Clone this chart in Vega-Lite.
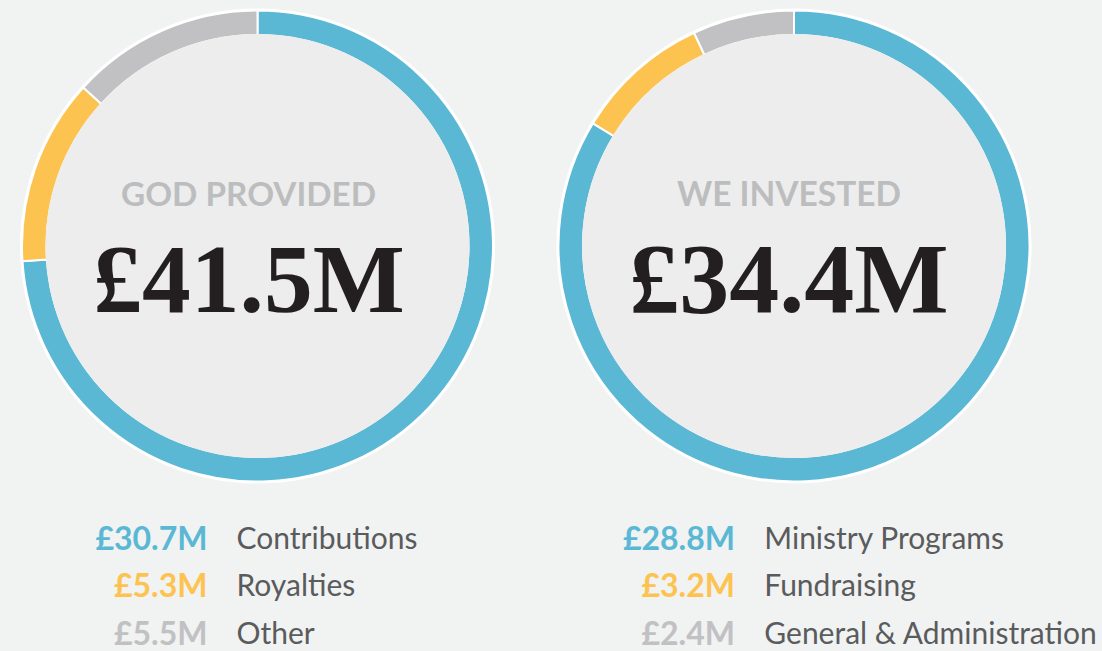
{
  "$schema": "https://vega.github.io/schema/vega-lite/v6.json",
  "background": "#f1f2f2",
  "padding": 0,
  "spacing": 21.5,
  "config": {"view": {"stroke": null}, "concat": {"spacing": 21.5}},
  "datasets": {
    "provided": [
      {"rank": 1, "category": "Contributions", "amount": 30.7, "display": "£30.7M", "title": "GOD PROVIDED", "total": "£41.5M"},
      {"rank": 2, "category": "Royalties", "amount": 5.3, "display": "£5.3M", "title": "GOD PROVIDED", "total": "£41.5M"},
      {"rank": 3, "category": "Other", "amount": 5.5, "display": "£5.5M", "title": "GOD PROVIDED", "total": "£41.5M"}
    ],
    "invested": [
      {"rank": 1, "category": "Ministry Programs", "amount": 28.8, "display": "£28.8M", "title": "WE INVESTED", "total": "£34.4M"},
      {"rank": 2, "category": "Fundraising", "amount": 3.2, "display": "£3.2M", "title": "WE INVESTED", "total": "£34.4M"},
      {"rank": 3, "category": "General & Administration", "amount": 2.4, "display": "£2.4M", "title": "WE INVESTED", "total": "£34.4M"}
    ]
  },
  "hconcat": [
    {
      "data": {"name": "provided"},
      "spacing": 22,
      "vconcat": [
        {
          "width": 515,
          "height": 492,
          "layer": [
            {"transform": [{"filter": "datum.rank == 1"}], "mark": {"type": "arc", "theta": 0, "theta2": 6.2832, "outerRadius": 237.5, "innerRadius": 0, "fill": "#ffffff"}},
            {
              "mark": {"type": "arc", "outerRadius": 235.5, "innerRadius": 211, "stroke": "#ffffff", "strokeWidth": 2},
              "encoding": {
                "theta": {"field": "amount", "type": "quantitative", "stack": true},
                "order": {"field": "rank", "type": "quantitative"},
                "color": {"field": "rank", "type": "ordinal", "scale": {"domain": [1, 2, 3], "range": ["#5ab8d5", "#fdc350", "#c1c1c3"]}, "legend": null}
              }
            },
            {"transform": [{"filter": "datum.rank == 1"}], "mark": {"type": "arc", "theta": 0, "theta2": 6.2832, "outerRadius": 212, "innerRadius": 0, "fill": "#ededed"}},
            {"transform": [{"filter": "datum.rank == 1"}], "mark": {"type": "text", "font": "Lato", "fontWeight": "bold", "fontSize": 33.3, "color": "#bcbdbf", "baseline": "alphabetic", "align": "center", "dy": -40.5, "dx": -9}, "encoding": {"text": {"field": "title"}}},
            {"transform": [{"filter": "datum.rank == 1"}], "mark": {"type": "text", "font": "Liberation Serif", "fontWeight": "bold", "fontSize": 97.5, "color": "#231f20", "baseline": "alphabetic", "align": "center", "dy": 65.5, "dx": -8.5}, "encoding": {"text": {"field": "total"}}}
          ]
        },
        {
          "width": 515,
          "height": {"step": 47.5},
          "encoding": {"y": {"field": "rank", "type": "ordinal", "axis": null}},
          "layer": [
            {"mark": {"type": "text", "font": "Lato", "fontWeight": "bold", "fontSize": 32, "align": "right", "baseline": "alphabetic", "dx": -50, "dy": 12},
             "encoding": {"text": {"field": "display"}, "color": {"field": "rank", "type": "ordinal", "scale": {"domain": [1, 2, 3], "range": ["#5ab8d4", "#fdc24f", "#bcbdbf"]}, "legend": null}}},
            {"mark": {"type": "text", "font": "Lato", "fontSize": 30, "align": "left", "baseline": "alphabetic", "dx": -21, "dy": 11, "color": "#5a5b5d"},
             "encoding": {"text": {"field": "category"}}}
          ]
        }
      ]
    },
    {
      "data": {"name": "invested"},
      "spacing": 22,
      "vconcat": [
        {
          "width": 515,
          "height": 492,
          "layer": [
            {"transform": [{"filter": "datum.rank == 1"}], "mark": {"type": "arc", "theta": 0, "theta2": 6.2832, "outerRadius": 237.5, "innerRadius": 0, "fill": "#ffffff"}},
            {
              "mark": {"type": "arc", "outerRadius": 235.5, "innerRadius": 211, "stroke": "#ffffff", "strokeWidth": 2},
              "encoding": {
                "theta": {"field": "amount", "type": "quantitative", "stack": true},
                "order": {"field": "rank", "type": "quantitative"},
                "color": {"field": "rank", "type": "ordinal", "scale": {"domain": [1, 2, 3], "range": ["#5ab8d5", "#fdc350", "#c1c1c3"]}, "legend": null}
              }
            },
            {"transform": [{"filter": "datum.rank == 1"}], "mark": {"type": "arc", "theta": 0, "theta2": 6.2832, "outerRadius": 212, "innerRadius": 0, "fill": "#ededed"}},
            {"transform": [{"filter": "datum.rank == 1"}], "mark": {"type": "text", "font": "Lato", "fontWeight": "bold", "fontSize": 33.5, "color": "#bcbdbf", "baseline": "alphabetic", "align": "center", "dy": -40.5, "dx": -5}, "encoding": {"text": {"field": "title"}}},
            {"transform": [{"filter": "datum.rank == 1"}], "mark": {"type": "text", "font": "Liberation Serif", "fontWeight": "bold", "fontSize": 100, "color": "#231f20", "baseline": "alphabetic", "align": "center", "dy": 65.5, "dx": -5}, "encoding": {"text": {"field": "total"}}}
          ]
        },
        {
          "width": 566,
          "height": {"step": 47.5},
          "encoding": {"y": {"field": "rank", "type": "ordinal", "axis": null}},
          "layer": [
            {"mark": {"type": "text", "font": "Lato", "fontWeight": "bold", "fontSize": 32, "align": "right", "baseline": "alphabetic", "dx": -84.5, "dy": 12},
             "encoding": {"text": {"field": "display"}, "color": {"field": "rank", "type": "ordinal", "scale": {"domain": [1, 2, 3], "range": ["#5ab8d4", "#fdc24f", "#bcbdbf"]}, "legend": null}}},
            {"mark": {"type": "text", "font": "Lato", "fontSize": 30, "align": "left", "baseline": "alphabetic", "dx": -55.2, "dy": 11, "color": "#5a5b5d"},
             "encoding": {"text": {"field": "category"}}}
          ]
        }
      ]
    }
  ]
}
